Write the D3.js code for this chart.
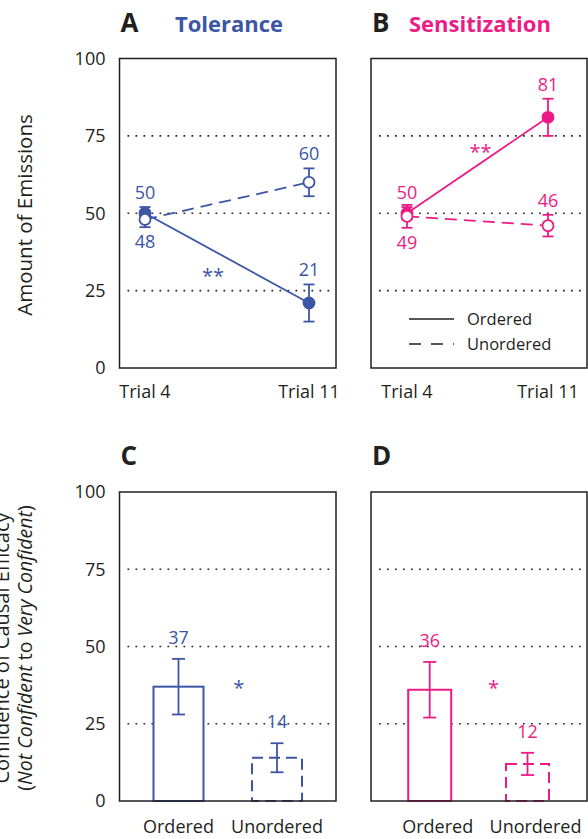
<!DOCTYPE html>
<html>
<head>
<meta charset="utf-8">
<script src="https://cdn.jsdelivr.net/npm/d3@7"></script>
<style>
  body { margin: 0; background: #fff; }
  svg { display: block; font-family: 'Open Sans', sans-serif; }
</style>
</head>
<body>
<div id="figure"></div>
<script>
// data
const trials = ['Trial 4', 'Trial 11'];
const toleranceOrdered = [50, 21];
const toleranceOrderedErr = [2, 6];
const toleranceUnordered = [48, 60];
const toleranceUnorderedErr = [2.5, 4.5];
const sensitizationOrdered = [50, 81];
const sensitizationOrderedErr = [2, 6];
const sensitizationUnordered = [49, 46];
const sensitizationUnorderedErr = [3.7, 3.5];

const conditions = ['Ordered', 'Unordered'];
const toleranceConfidence = [37, 14];
const toleranceConfidenceErr = [9, 4.7];
const sensitizationConfidence = [36, 12];
const sensitizationConfidenceErr = [9, 3.6];

const yTicks = [0, 25, 50, 75, 100];
const gridTicks = [25, 50, 75];

// styling
const BLUE = '#3c56a6';
const PINK = '#ec1c87';
const INK = '#231f20';

const $svg = d3.select('#figure').append('svg')
  .attr('width', 588)
  .attr('height', 839);

// helper functions
function frame($g, box) {
  $g.append('rect')
    .attr('x', box.x0).attr('y', box.y0)
    .attr('width', box.x1 - box.x0).attr('height', box.y1 - box.y0)
    .attr('fill', 'none')
    .attr('stroke', INK)
    .attr('stroke-width', 1.5);
}

function grid($g, box, scaleY) {
  $g.selectAll('.grid')
    .data(gridTicks)
    .join('line')
    .attr('class', 'grid')
    .attr('x1', box.x0 + 8).attr('x2', box.x1 - 2)
    .attr('y1', d => scaleY(d)).attr('y2', d => scaleY(d))
    .attr('stroke', INK)
    .attr('stroke-width', 1.7)
    .attr('stroke-dasharray', '1.7 6.3');
}

function yAxisLabels($g, box, scaleY) {
  $g.selectAll('.tick-label')
    .data(yTicks)
    .join('text')
    .attr('class', 'tick-label')
    .attr('x', box.x0 - 14)
    .attr('y', d => scaleY(d))
    .attr('dy', '0.36em')
    .attr('text-anchor', 'end')
    .attr('font-size', 18)
    .attr('fill', INK)
    .text(d => d);
}

function heading($g, box, letter, title, color, titleX) {
  $g.append('text')
    .attr('x', box.x0 + 1).attr('y', box.y0 - 27)
    .attr('font-size', 26).attr('font-weight', 700)
    .attr('fill', INK)
    .text(letter);
  if (title) {
    $g.append('text')
      .attr('x', titleX).attr('y', box.y0 - 27)
      .attr('font-size', 22).attr('font-weight', 700)
      .attr('fill', color)
      .text(title);
  }
}

function errorBar($g, x, top, bottom, cap, color) {
  $g.append('line')
    .attr('x1', x).attr('x2', x).attr('y1', top).attr('y2', bottom)
    .attr('stroke', color).attr('stroke-width', 1.8);
  [top, bottom].forEach(y => {
    $g.append('line')
      .attr('x1', x - cap).attr('x2', x + cap).attr('y1', y).attr('y2', y)
      .attr('stroke', color).attr('stroke-width', 1.8);
  });
}

function linePanel(opts) {
  const { box, color } = opts;
  const $g = $svg.append('g');
  const scaleX = d3.scalePoint().domain(trials).range(opts.pointRange);
  const scaleY = d3.scaleLinear().domain([0, 100]).range([box.y1, box.y0]);

  grid($g, box, scaleY);
  frame($g, box);
  if (opts.showY) yAxisLabels($g, box, scaleY);
  heading($g, box, opts.letter, opts.title, color, opts.titleX);

  $g.selectAll('.x-label')
    .data(trials)
    .join('text')
    .attr('class', 'x-label')
    .attr('x', d => scaleX(d))
    .attr('y', box.y1 + 30)
    .attr('text-anchor', 'middle')
    .attr('font-size', 18)
    .attr('fill', INK)
    .text(d => d);

  const series = [
    { values: opts.ordered, errs: opts.orderedErr, dash: null, fill: color },
    { values: opts.unordered, errs: opts.unorderedErr, dash: '12 7', fill: '#fff' },
  ];

  const line = d3.line().x((d, i) => scaleX(trials[i])).y(d => scaleY(d));

  series.forEach(s => {
    s.values.forEach((v, i) => {
      errorBar($g, scaleX(trials[i]), scaleY(v + s.errs[i]), scaleY(v - s.errs[i]), 5.5, color);
    });
    $g.append('path')
      .attr('d', line(s.values))
      .attr('fill', 'none')
      .attr('stroke', color)
      .attr('stroke-width', 1.8)
      .attr('stroke-dasharray', s.dash);
  });

  series.forEach(s => {
    $g.selectAll(null)
      .data(s.values)
      .join('circle')
      .attr('cx', (d, i) => scaleX(trials[i]))
      .attr('cy', d => scaleY(d))
      .attr('r', 5.5)
      .attr('fill', s.fill)
      .attr('stroke', color)
      .attr('stroke-width', 1.8);
  });

  // value labels: higher one above, lower one below at trial 4; above at trial 11
  trials.forEach((t, i) => {
    const [a, b] = series;
    const hi = a.values[i] >= b.values[i] ? a : b;
    const lo = hi === a ? b : a;
    const place = (s, above) => {
      const v = s.values[i];
      $g.append('text')
        .attr('x', scaleX(t))
        .attr('y', above ? scaleY(v + s.errs[i]) - 8 : scaleY(v - s.errs[i]) + 21)
        .attr('text-anchor', 'middle')
        .attr('font-size', 18)
        .attr('fill', color)
        .text(v);
    };
    if (i === 0) {
      place(hi, true);
      place(lo, false);
    } else {
      place(a, true);
      place(b, true);
    }
  });

  // significance
  const midX = (scaleX(trials[0]) + scaleX(trials[1])) / 2;
  const midY = (scaleY(opts.ordered[0]) + scaleY(opts.ordered[1])) / 2;
  $g.append('text')
    .attr('x', midX + opts.sigDx)
    .attr('y', midY + opts.sigDy + 11)
    .attr('text-anchor', 'middle')
    .attr('font-size', 20)
    .attr('fill', color)
    .text('**');

  if (opts.legend) {
    const lx = opts.legend.x;
    const items = [
      { label: 'Ordered', dash: null },
      { label: 'Unordered', dash: '12 10' },
    ];
    items.forEach((item, i) => {
      const ly = opts.legend.y + i * 25;
      $g.append('line')
        .attr('x1', lx).attr('x2', lx + 45).attr('y1', ly).attr('y2', ly)
        .attr('stroke', INK).attr('stroke-width', 1.6)
        .attr('stroke-dasharray', item.dash);
      $g.append('text')
        .attr('x', lx + 58).attr('y', ly + 6)
        .attr('font-size', 16.5)
        .attr('fill', INK)
        .text(item.label);
    });
  }
}

function barPanel(opts) {
  const { box, color } = opts;
  const $g = $svg.append('g');
  const scaleX = d3.scalePoint().domain(conditions).range(opts.centerRange);
  const scaleY = d3.scaleLinear().domain([0, 100]).range([box.y1, box.y0]);
  const bw = opts.barWidth;

  grid($g, box, scaleY);
  if (opts.showY) yAxisLabels($g, box, scaleY);
  heading($g, box, opts.letter, null, color);

  $g.selectAll('.bar')
    .data(opts.values)
    .join('rect')
    .attr('class', 'bar')
    .attr('x', (d, i) => scaleX(conditions[i]) - bw / 2)
    .attr('y', d => scaleY(d))
    .attr('width', bw)
    .attr('height', d => box.y1 - scaleY(d))
    .attr('fill', '#fff')
    .attr('stroke', color)
    .attr('stroke-width', 2)
    .attr('stroke-dasharray', (d, i) => (i === 1 ? '11 6' : null));

  frame($g, box);

  opts.values.forEach((v, i) => {
    const x = scaleX(conditions[i]);
    const top = scaleY(v + opts.errs[i]);
    errorBar($g, x, top, scaleY(v - opts.errs[i]), 6.5, color);
    $g.append('text')
      .attr('x', x)
      .attr('y', top - 15)
      .attr('text-anchor', 'middle')
      .attr('font-size', 18)
      .attr('fill', color)
      .text(v);
  });

  $g.selectAll('.x-label')
    .data(conditions)
    .join('text')
    .attr('class', 'x-label')
    .attr('x', d => scaleX(d) + opts.labelDx)
    .attr('y', box.y1 + 32)
    .attr('text-anchor', 'middle')
    .attr('font-size', 18)
    .attr('fill', INK)
    .text(d => d);

  const midX = (scaleX(conditions[0]) + scaleX(conditions[1])) / 2;
  $g.append('text')
    .attr('x', midX + opts.sigDx)
    .attr('y', scaleY(opts.sigLevel) + 11)
    .attr('text-anchor', 'middle')
    .attr('font-size', 20)
    .attr('fill', color)
    .text('*');
}

// top row
const topBox = { y0: 58.5, y1: 368 };
const bottomBox = { y0: 492, y1: 801 };

linePanel({
  box: { x0: 119.5, x1: 336, ...topBox },
  pointRange: [145, 309],
  color: BLUE,
  letter: 'A',
  title: 'Tolerance',
  titleX: 175,
  showY: true,
  ordered: toleranceOrdered,
  orderedErr: toleranceOrderedErr,
  unordered: toleranceUnordered,
  unorderedErr: toleranceUnorderedErr,
  sigDx: -14,
  sigDy: 14,
});

linePanel({
  box: { x0: 371, x1: 587, ...topBox },
  pointRange: [407, 548],
  color: PINK,
  letter: 'B',
  title: 'Sensitization',
  titleX: 409,
  showY: false,
  ordered: sensitizationOrdered,
  orderedErr: sensitizationOrderedErr,
  unordered: sensitizationUnordered,
  unorderedErr: sensitizationUnorderedErr,
  sigDx: 3,
  sigDy: -17,
  legend: { x: 409, y: 319 },
});

// bottom row
barPanel({
  box: { x0: 119.5, x1: 336, ...bottomBox },
  centerRange: [178.5, 277],
  barWidth: 50,
  color: BLUE,
  letter: 'C',
  showY: true,
  values: toleranceConfidence,
  errs: toleranceConfidenceErr,
  labelDx: 0,
  sigDx: 11,
  sigLevel: 38,
});

barPanel({
  box: { x0: 371, x1: 587, ...bottomBox },
  centerRange: [429.7, 527.5],
  barWidth: 43,
  color: PINK,
  letter: 'D',
  showY: false,
  values: sensitizationConfidence,
  errs: sensitizationConfidenceErr,
  labelDx: 8,
  sigDx: 15,
  sigLevel: 38,
});

// y axis titles
$svg.append('text')
  .attr('transform', 'translate(32,215) rotate(-90)')
  .attr('text-anchor', 'middle')
  .attr('font-size', 20.5)
  .attr('fill', INK)
  .text('Amount of Emissions');

$svg.append('text')
  .attr('transform', 'translate(9,648) rotate(-90)')
  .attr('text-anchor', 'middle')
  .attr('font-size', 20)
  .attr('fill', INK)
  .text('Confidence of Causal Efficacy');

const $sub = $svg.append('text')
  .attr('transform', 'translate(31.5,648) rotate(-90)')
  .attr('text-anchor', 'middle')
  .attr('font-size', 19.5)
  .attr('fill', INK);
[['(', 'normal'], ['Not Confident', 'italic'], [' to ', 'normal'], ['Very Confident', 'italic'], [')', 'normal']]
  .forEach(([t, style]) => {
    $sub.append('tspan').attr('font-style', style).text(t);
  });
</script>
</body>
</html>
